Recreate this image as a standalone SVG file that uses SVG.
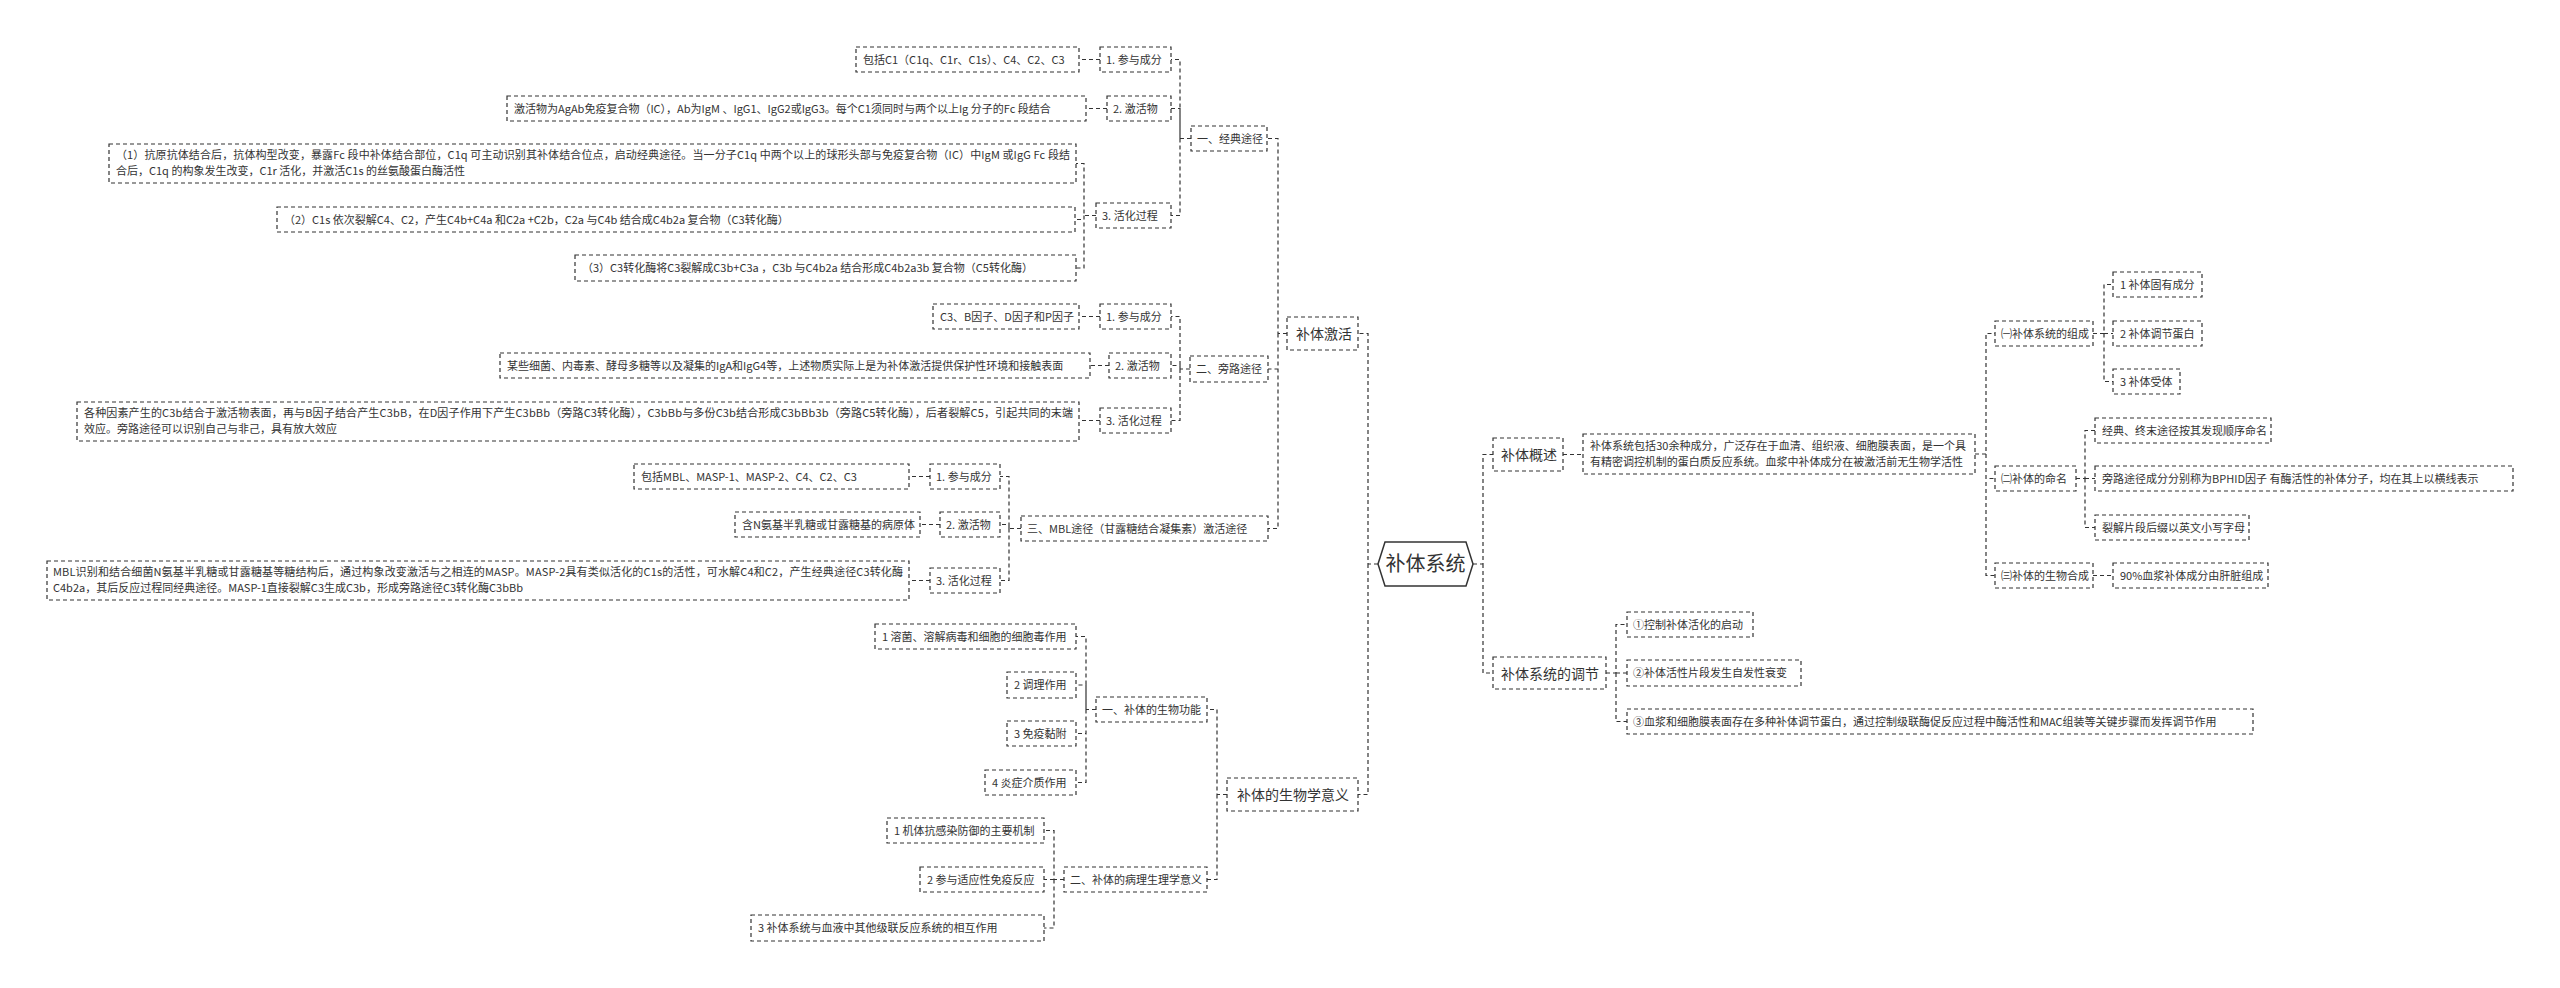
<svg xmlns="http://www.w3.org/2000/svg" width="2560" height="988" viewBox="0 0 2560 988">
<style>
.b{fill:#fff;stroke:#333;stroke-width:1.2;stroke-dasharray:4 3}
.c{fill:none;stroke:#333;stroke-width:1.2;stroke-dasharray:4 3}
.t{font-family:"Noto Sans CJK SC","Microsoft YaHei",sans-serif;font-size:11px;fill:#333}
.m{font-size:14px}
.h{fill:#fff;stroke:#333;stroke-width:1.5}
</style>
<rect width="2560" height="988" fill="#fff"/>
<g id="connectors">
<path class="c" d="M1378,564 H1368 V333.5 H1358 M1368,564 V794.5 H1358"/>
<path class="c" d="M1473,564 H1483 V454.5 H1493 M1483,564 V673 H1493"/>
<path class="c" d="M1563,454.5 H1583"/>
<path class="c" d="M1975,454 H1986 V333.5 H1995 M1986,454 V478.5 H1995 M1986,454 V575.5 H1995"/>
<path class="c" d="M2093,333.5 H2104 V284.5 H2113 M2104,333.5 H2113 M2104,333.5 V381.5 H2113"/>
<path class="c" d="M2076,478.5 H2085 V430.5 H2095 M2085,478.5 H2095 M2085,478.5 V527.5 H2095"/>
<path class="c" d="M2093,575.5 H2113"/>
<path class="c" d="M1606,673 H1616 V624.5 H1627 M1616,673 H1627 M1616,673 V721.5 H1627"/>
<path class="c" d="M1287,333.5 H1278 V138.5 H1267 M1278,333.5 V369 H1268 M1278,333.5 V528.5 H1268"/>
<path class="c" d="M1191,138.5 H1180 V59.5 H1171 M1180,138.5 V108.5 H1171 M1180,138.5 V215.5 H1171"/>
<path class="c" d="M1100,59.5 H1079 M1107,108.5 H1086"/>
<path class="c" d="M1096,215.5 H1084 V163.5 H1076 M1084,215.5 V219.5 H1075 M1084,215.5 V268 H1076"/>
<path class="c" d="M1190,369 H1180 V316.5 H1171 M1180,369 V365.5 H1171 M1180,369 V420.5 H1171"/>
<path class="c" d="M1100,316.5 H1079 M1109,365.5 H1090 M1100,420.5 H1079"/>
<path class="c" d="M1021,528.5 H1009 V476.5 H1000 M1009,528.5 V524.5 H1000 M1009,528.5 V580.5 H1000"/>
<path class="c" d="M930,476.5 H909 M940,524.5 H920 M930,580.5 H909"/>
<path class="c" d="M1227,794.5 H1217 V709.5 H1207 M1217,794.5 V879.5 H1207"/>
<path class="c" d="M1096,709.5 H1086 V636.5 H1076 M1086,709.5 V685 H1076 M1086,709.5 V733.5 H1076 M1086,709.5 V782.5 H1076"/>
<path class="c" d="M1064,879.5 H1054 V830.5 H1044 M1054,879.5 H1044 M1054,879.5 V928 H1044"/>
</g>
<g id="n-root"><polygon class="h" points="1378,564 1385,542 1466,542 1473,564 1466,586 1385,586"/><text class="t" x="1425.5" y="571" font-size="20" style="font-size:20px" text-anchor="middle">补体系统</text></g>
<g id="n-jh"><rect class="b" x="1287" y="317" width="71" height="33"/><text class="t m" x="1296" y="338.5">补体激活</text></g>
<g id="n-jd"><rect class="b" x="1191" y="126" width="76" height="25"/><text class="t" x="1197" y="142.5">一、经典途径</text></g>
<g id="n-jd1"><rect class="b" x="1100" y="47" width="71" height="25"/><text class="t" x="1106" y="63.5">1. 参与成分</text></g>
<g id="n-jd1a"><rect class="b" x="856" y="47" width="223" height="25"/><text class="t" x="863" y="63.5">包括C1（C1q、C1r、C1s）、C4、C2、C3</text></g>
<g id="n-jd2"><rect class="b" x="1107" y="96" width="64" height="25"/><text class="t" x="1113" y="112.5">2. 激活物</text></g>
<g id="n-jd2a"><rect class="b" x="507" y="96" width="579" height="25"/><text class="t" x="514" y="112.5">激活物为AgAb免疫复合物（IC），Ab为IgM 、IgG1、IgG2或IgG3。每个C1须同时与两个以上Ig 分子的Fc 段结合</text></g>
<g id="n-jd3"><rect class="b" x="1096" y="203" width="75" height="25"/><text class="t" x="1102" y="219.5">3. 活化过程</text></g>
<g id="n-jd3a"><rect class="b" x="109" y="144" width="967" height="39"/><text class="t" x="116" y="159" textLength="954" lengthAdjust="spacing">（1）抗原抗体结合后，抗体构型改变，暴露Fc 段中补体结合部位，C1q 可主动识别其补体结合位点，启动经典途径。当一分子C1q 中两个以上的球形头部与免疫复合物（IC）中IgM 或IgG Fc 段结</text><text class="t" x="116" y="175">合后，C1q 的构象发生改变，C1r 活化，并激活C1s 的丝氨酸蛋白酶活性</text></g>
<g id="n-jd3b"><rect class="b" x="277" y="207" width="798" height="25"/><text class="t" x="284" y="223.5">（2）C1s 依次裂解C4、C2，产生C4b+C4a 和C2a +C2b，C2a 与C4b 结合成C4b2a 复合物（C3转化酶）</text></g>
<g id="n-jd3c"><rect class="b" x="575" y="255" width="501" height="26"/><text class="t" x="582" y="272">（3）C3转化酶将C3裂解成C3b+C3a ，C3b 与C4b2a 结合形成C4b2a3b 复合物（C5转化酶）</text></g>
<g id="n-pl"><rect class="b" x="1190" y="356" width="78" height="26"/><text class="t" x="1196" y="373">二、旁路途径</text></g>
<g id="n-pl1"><rect class="b" x="1100" y="304" width="71" height="25"/><text class="t" x="1106" y="320.5">1. 参与成分</text></g>
<g id="n-pl1a"><rect class="b" x="933" y="304" width="146" height="25"/><text class="t" x="940" y="320.5">C3、B因子、D因子和P因子</text></g>
<g id="n-pl2"><rect class="b" x="1109" y="353" width="62" height="25"/><text class="t" x="1115" y="369.5">2. 激活物</text></g>
<g id="n-pl2a"><rect class="b" x="500" y="353" width="590" height="25"/><text class="t" x="507" y="369.5">某些细菌、内毒素、酵母多糖等以及凝集的IgA和IgG4等，上述物质实际上是为补体激活提供保护性环境和接触表面</text></g>
<g id="n-pl3"><rect class="b" x="1100" y="408" width="71" height="25"/><text class="t" x="1106" y="424.5">3. 活化过程</text></g>
<g id="n-pl3a"><rect class="b" x="77" y="402" width="1002" height="39"/><text class="t" x="84" y="417" textLength="989" lengthAdjust="spacing">各种因素产生的C3b结合于激活物表面，再与B因子结合产生C3bB，在D因子作用下产生C3bBb（旁路C3转化酶），C3bBb与多份C3b结合形成C3bBb3b（旁路C5转化酶），后者裂解C5，引起共同的末端</text><text class="t" x="84" y="433">效应。旁路途径可以识别自己与非己，具有放大效应</text></g>
<g id="n-mbl"><rect class="b" x="1021" y="516" width="247" height="25"/><text class="t" x="1027" y="532.5">三、MBL途径（甘露糖结合凝集素）激活途径</text></g>
<g id="n-mbl1"><rect class="b" x="930" y="464" width="70" height="25"/><text class="t" x="936" y="480.5">1. 参与成分</text></g>
<g id="n-mbl1a"><rect class="b" x="634" y="464" width="275" height="25"/><text class="t" x="641" y="480.5">包括MBL、MASP-1、MASP-2、C4、C2、C3</text></g>
<g id="n-mbl2"><rect class="b" x="940" y="512" width="60" height="25"/><text class="t" x="946" y="528.5">2. 激活物</text></g>
<g id="n-mbl2a"><rect class="b" x="735" y="512" width="185" height="25"/><text class="t" x="742" y="528.5">含N氨基半乳糖或甘露糖基的病原体</text></g>
<g id="n-mbl3"><rect class="b" x="930" y="568" width="70" height="25"/><text class="t" x="936" y="584.5">3. 活化过程</text></g>
<g id="n-mbl3a"><rect class="b" x="47" y="561" width="862" height="39"/><text class="t" x="53" y="576" textLength="850" lengthAdjust="spacing">MBL识别和结合细菌N氨基半乳糖或甘露糖基等糖结构后，通过构象改变激活与之相连的MASP。MASP-2具有类似活化的C1s的活性，可水解C4和C2，产生经典途径C3转化酶</text><text class="t" x="53" y="592">C4b2a，其后反应过程同经典途径。MASP-1直接裂解C3生成C3b，形成旁路途径C3转化酶C3bBb</text></g>
<g id="n-sw"><rect class="b" x="1227" y="778" width="131" height="33"/><text class="t m" x="1237" y="799.5">补体的生物学意义</text></g>
<g id="n-sw1"><rect class="b" x="1096" y="697" width="111" height="25"/><text class="t" x="1102" y="713.5">一、补体的生物功能</text></g>
<g id="n-sw1a"><rect class="b" x="875" y="624" width="201" height="25"/><text class="t" x="882" y="640.5">1 溶菌、溶解病毒和细胞的细胞毒作用</text></g>
<g id="n-sw1b"><rect class="b" x="1007" y="672" width="69" height="26"/><text class="t" x="1014" y="689">2 调理作用</text></g>
<g id="n-sw1c"><rect class="b" x="1007" y="721" width="69" height="25"/><text class="t" x="1014" y="737.5">3 免疫黏附</text></g>
<g id="n-sw1d"><rect class="b" x="985" y="770" width="91" height="25"/><text class="t" x="992" y="786.5">4 炎症介质作用</text></g>
<g id="n-sw2"><rect class="b" x="1064" y="867" width="143" height="25"/><text class="t" x="1070" y="883.5">二、补体的病理生理学意义</text></g>
<g id="n-sw2a"><rect class="b" x="887" y="818" width="157" height="25"/><text class="t" x="894" y="834.5">1 机体抗感染防御的主要机制</text></g>
<g id="n-sw2b"><rect class="b" x="920" y="867" width="124" height="25"/><text class="t" x="927" y="883.5">2 参与适应性免疫反应</text></g>
<g id="n-sw2c"><rect class="b" x="751" y="915" width="293" height="26"/><text class="t" x="758" y="932">3 补体系统与血液中其他级联反应系统的相互作用</text></g>
<g id="n-gs"><rect class="b" x="1493" y="438" width="70" height="33"/><text class="t m" x="1501" y="459.5">补体概述</text></g>
<g id="n-gsa"><rect class="b" x="1583" y="434" width="392" height="40"/><text class="t" x="1590" y="450" textLength="376" lengthAdjust="spacing">补体系统包括30余种成分，广泛存在于血清、组织液、细胞膜表面，是一个具</text><text class="t" x="1590" y="466" textLength="373" lengthAdjust="spacing">有精密调控机制的蛋白质反应系统。血浆中补体成分在被激活前无生物学活性</text></g>
<g id="n-zc"><rect class="b" x="1995" y="321" width="98" height="25"/><text class="t" x="2001" y="337.5">㈠补体系统的组成</text></g>
<g id="n-zc1"><rect class="b" x="2113" y="272" width="89" height="25"/><text class="t" x="2120" y="288.5">1 补体固有成分</text></g>
<g id="n-zc2"><rect class="b" x="2113" y="321" width="89" height="25"/><text class="t" x="2120" y="337.5">2 补体调节蛋白</text></g>
<g id="n-zc3"><rect class="b" x="2113" y="369" width="67" height="25"/><text class="t" x="2120" y="385.5">3 补体受体</text></g>
<g id="n-mm"><rect class="b" x="1995" y="466" width="81" height="25"/><text class="t" x="2001" y="482.5">㈡补体的命名</text></g>
<g id="n-mm1"><rect class="b" x="2095" y="418" width="176" height="25"/><text class="t" x="2102" y="434.5">经典、终末途径按其发现顺序命名</text></g>
<g id="n-mm2"><rect class="b" x="2095" y="466" width="418" height="25"/><text class="t" x="2102" y="482.5">旁路途径成分分别称为BPHID因子 有酶活性的补体分子，均在其上以横线表示</text></g>
<g id="n-mm3"><rect class="b" x="2095" y="515" width="154" height="25"/><text class="t" x="2102" y="531.5">裂解片段后缀以英文小写字母</text></g>
<g id="n-hc"><rect class="b" x="1995" y="563" width="98" height="25"/><text class="t" x="2001" y="579.5">㈢补体的生物合成</text></g>
<g id="n-hc1"><rect class="b" x="2113" y="563" width="155" height="25"/><text class="t" x="2120" y="579.5">90%血浆补体成分由肝脏组成</text></g>
<g id="n-tj"><rect class="b" x="1493" y="657" width="113" height="32"/><text class="t m" x="1501" y="678.5">补体系统的调节</text></g>
<g id="n-tj1"><rect class="b" x="1627" y="612" width="126" height="25"/><text class="t" x="1633" y="628.5">①控制补体活化的启动</text></g>
<g id="n-tj2"><rect class="b" x="1627" y="660" width="174" height="26"/><text class="t" x="1633" y="677">②补体活性片段发生自发性衰变</text></g>
<g id="n-tj3"><rect class="b" x="1627" y="709" width="626" height="25"/><text class="t" x="1633" y="725.5">③血浆和细胞膜表面存在多种补体调节蛋白，通过控制级联酶促反应过程中酶活性和MAC组装等关键步骤而发挥调节作用</text></g>
</svg>
